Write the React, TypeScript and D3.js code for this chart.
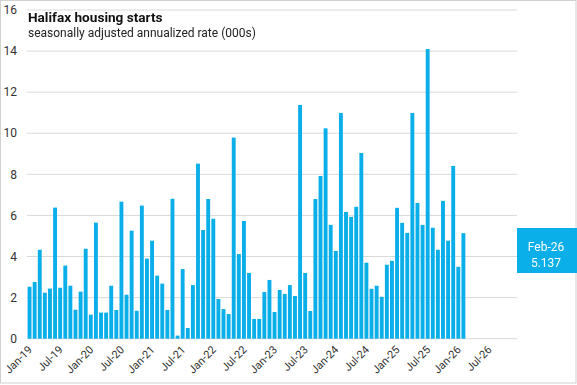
import { scaleBand, scaleLinear } from "d3";

// monthly, Jan-19 .. Feb-26, thousands of units (SAAR)
const starts = [
  2.53, 2.76, 4.33, 2.24, 2.44, 6.38, 2.48, 3.56, 2.58, 1.41, 2.29, 4.38,
  1.17, 5.65, 1.27, 1.27, 2.58, 1.4, 6.67, 2.14, 5.26, 1.36, 6.48, 3.9,
  4.77, 3.07, 2.68, 1.4, 6.81, 0.15, 3.39, 0.52, 2.61, 8.52, 5.29, 6.8,
  5.84, 1.93, 1.44, 1.2, 9.79, 4.12, 5.73, 3.2, 0.96, 0.96, 2.27, 2.86,
  1.3, 2.37, 2.18, 2.61, 2.08, 11.38, 3.2, 1.35, 6.8, 7.92, 10.24, 5.54,
  4.27, 10.99, 6.17, 5.93, 6.42, 9.04, 3.7, 2.43, 2.58, 2.04, 3.6, 3.79,
  6.37, 5.64, 5.15, 10.99, 6.61, 5.54, 14.1, 5.4, 4.33, 6.71, 4.77, 8.41,
  3.5, 5.137,
];
const monthNames = ["Jan", "Feb", "Mar", "Apr", "May", "Jun", "Jul", "Aug", "Sep", "Oct", "Nov", "Dec"];
const startYear = 2019;
const totalMonths = 96; // axis runs to Dec-26
const yTicks = [0, 2, 4, 6, 8, 10, 12, 14, 16];

const monthLabel = (i: number) =>
  `${monthNames[i % 12]}-${String((startYear + Math.floor(i / 12)) % 100).padStart(2, "0")}`;

export default function App() {
  const width = 577;
  const height = 385;
  const months = Array.from({ length: totalMonths }, (_, i) => monthLabel(i));

  const x = scaleBand<string>().domain(months).range([27, 517]).paddingInner(0.24).paddingOuter(0.12);
  const y = scaleLinear().domain([0, 16]).range([338.7, 10]);

  const last = starts.length - 1;
  const font = "Roboto, 'Liberation Sans', sans-serif";

  return (
    <div style={{ position: "fixed", left: 0, top: 0 }}>
      <svg width={width} height={height} style={{ display: "block", fontFamily: font }}>
        <rect x={0.5} y={0.5} width={width - 1.5} height={height - 2.5} fill="#fff" stroke="#d0d0d0" />

        {yTicks.map((t) => (
          <g key={t}>
            <line x1={27} x2={517} y1={y(t)} y2={y(t)} stroke="#d9d9d9" />
            <text x={17} y={y(t)} dy="0.35em" textAnchor="end" fontSize={12} fill="#333">
              {t}
            </text>
          </g>
        ))}

        {starts.map((v, i) => (
          <rect
            key={i}
            x={x(months[i])}
            y={y(v)}
            width={x.bandwidth()}
            height={y(0) - y(v)}
            fill="#0aaee8"
          />
        ))}

        {months
          .filter((_, i) => i % 6 === 0)
          .map((m) => (
            <text
              key={m}
              transform={`translate(${(x(m) ?? 0) + x.bandwidth() / 2 - 2}, 345) rotate(-45)`}
              textAnchor="end"
              dy="0.7em"
              fontSize={11}
              fill="#333"
            >
              {m}
            </text>
          ))}

        <text x={28} y={21.7} fontSize={13.6} fontWeight="bold" fill="#111">
          Halifax housing starts
        </text>
        <text x={28} y={36.5} fontSize={12} fill="#222">
          seasonally adjusted annualized rate (000s)
        </text>

        <rect x={517} y={228} width={60} height={45} fill="#0aaee8" />
        <text x={546} y={250.5} textAnchor="middle" fontSize={12} fill="#fff">
          {months[last]}
        </text>
        <text x={546} y={266.5} textAnchor="middle" fontSize={12} fill="#fff">
          {starts[last].toFixed(3)}
        </text>
      </svg>
    </div>
  );
}
